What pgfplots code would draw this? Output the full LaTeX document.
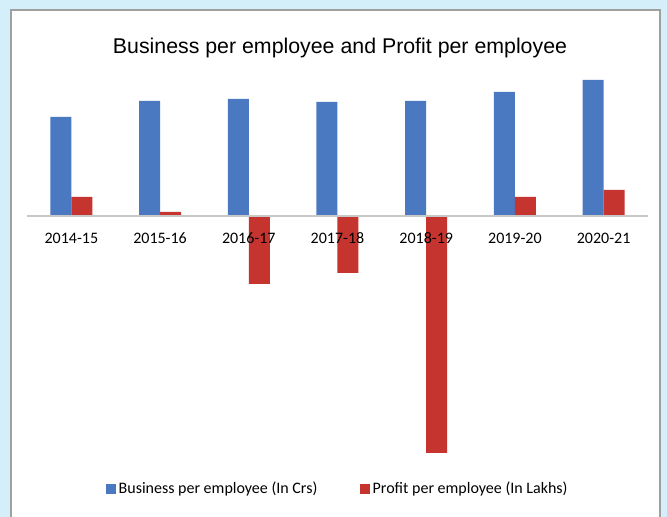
\documentclass[border=0pt]{standalone}
\usepackage{fontspec}
\setmainfont{Carlito}
\newfontfamily\titlefont{Liberation Sans}
\usepackage{pgfplots}
\pgfplotsset{compat=1.18}
\definecolor{bgblue}{RGB}{212,238,250}
\definecolor{framegray}{RGB}{160,160,160}
\definecolor{barblue}{RGB}{74,120,193}
\definecolor{barred}{RGB}{198,52,48}
\definecolor{zerogray}{RGB}{200,200,200}

\begin{document}
\begin{tikzpicture}[x=0.75pt,y=0.75pt]
  \useasboundingbox (0,0) rectangle (667,517);
  \fill[bgblue] (0,0) rectangle (667,517);
  \fill[white] (11,0) rectangle (660,507);
  \draw[framegray, line width=1pt] (11,0) -- (11,507) -- (660,507) -- (660,0);
  \node[font=\titlefont\fontsize{16}{19}\selectfont] at (340,469) {Business per employee and Profit per employee};

  \begin{axis}[
      at={(20.25pt,38.25pt)}, anchor=south west,
      scale only axis,
      width=465.75pt, height=292.5pt,
      xmin=-0.5, xmax=6.5,
      ymin=-250, ymax=140,
      axis on top,
      axis x line=middle,
      axis y line=none,
      x axis line style={zerogray, line width=1.5pt, -},
      xtick=data,
      xticklabels={2014-15,2015-16,2016-17,2017-18,2018-19,2019-20,2020-21},
      xticklabel style={font=\fontsize{12}{14}\selectfont, yshift=-9pt},
      major tick length=0pt,
      ytick=\empty,
      ybar, bar width=15.75pt,
      legend style={draw=none, fill=none, at={(0.501,-0.059)}, anchor=center,
        font=\fontsize{12}{14}\selectfont,
        /tikz/every even column/.append style={column sep=30pt}},
      legend columns=2,
      legend image code/.code={\fill[#1] (0pt,-3.75pt) rectangle (7.5pt,3.75pt);},
      clip=false,
    ]
    \addplot[fill=barblue, draw=none, bar shift=-7.875pt] coordinates {
      (0,99) (1,115) (2,117) (3,114) (4,115) (5,124) (6,136)};
    \addplot[fill=barred, draw=none, bar shift=7.875pt] coordinates {
      (0,19) (1,4) (2,-68) (3,-57) (4,-237) (5,19) (6,26)};
    \legend{Business per employee (In Crs), Profit per employee (In Lakhs)}
  \end{axis}
\end{tikzpicture}
\end{document}
